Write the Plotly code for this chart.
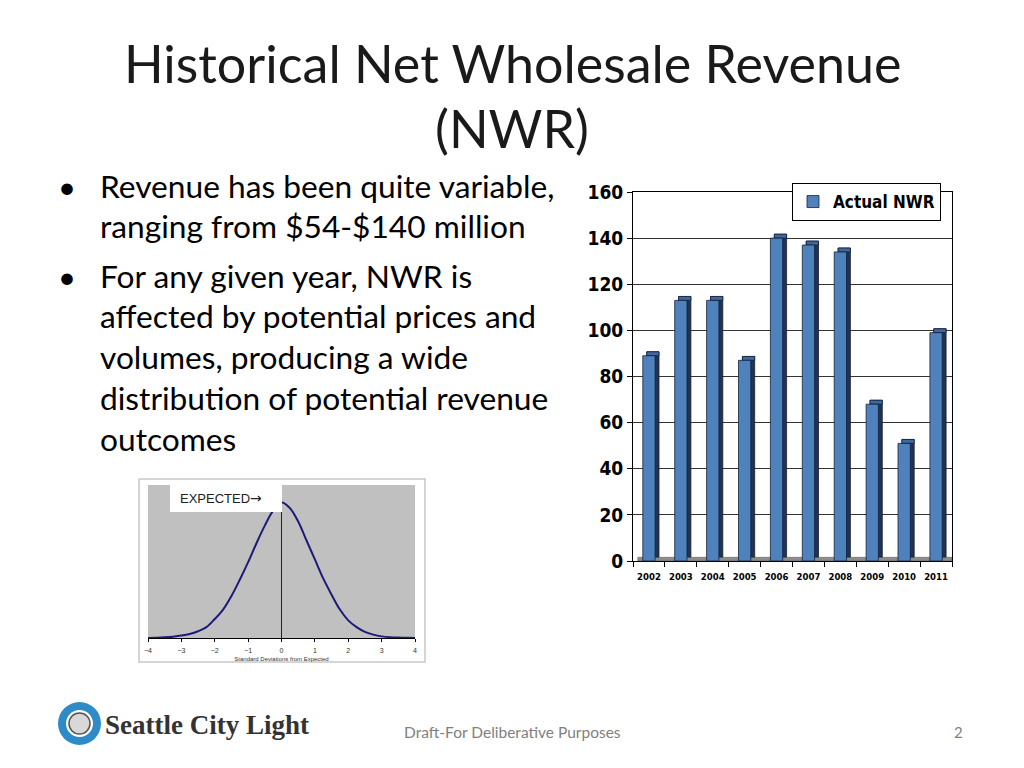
import plotly.graph_objects as go

# ------------------------------------------------------------
# Datos
# ------------------------------------------------------------
YEARS = ["2002", "2003", "2004", "2005", "2006", "2007", "2008", "2009", "2010", "2011"]
NWR = [89, 113, 113, 87, 140, 137, 134, 68, 51, 99]

SD_X = [-4, -3.75, -3.5, -3.25, -3, -2.75, -2.5, -2.25, -2, -1.75, -1.5, -1.25, -1,
        -0.75, -0.5, -0.25, 0, 0.25, 0.5, 0.75, 1, 1.25, 1.5, 1.75, 2, 2.25, 2.5,
        2.75, 3, 3.25, 3.5, 3.75, 4]
SD_Y = [0.0, 0.002, 0.005, 0.01, 0.018, 0.03, 0.05, 0.08, 0.14, 0.21, 0.31, 0.43, 0.56,
        0.7, 0.83, 0.94, 1.0, 0.96, 0.86, 0.72, 0.58, 0.44, 0.32, 0.21, 0.13, 0.08, 0.045,
        0.025, 0.012, 0.006, 0.003, 0.001, 0.0]
SD_TICKS = [-4, -3, -2, -1, 0, 1, 2, 3, 4]

TITLE_LINES = ["Historical Net Wholesale Revenue", "(NWR)"]
BULLETS = [
    ("•", "Revenue has been quite variable,", 186),
    ("", "ranging from $54-$140 million", 226),
    ("•", "For any given year, NWR is", 276),
    ("", "affected by potential prices and", 316),
    ("", "volumes, producing a wide", 357),
    ("", "distribution of potential revenue", 398),
    ("", "outcomes", 439),
]

# ------------------------------------------------------------
# Estilos
# ------------------------------------------------------------
W, H = 1024, 768
COLOR_BAR = "#4f81bd"
COLOR_BAR_TOP = "#3f68a3"
COLOR_BAR_DARK = "#1f3352"
COLOR_CURVE = "#1c1c78"
DEPTH = 1.7          # profundidad 3D en unidades del eje
FONT_SLIDE = "Lato, Carlito, 'Open Sans', sans-serif"
FONT_NARROW = "'DejaVu Sans Condensed', 'Liberation Sans Narrow', Arial, sans-serif"


def px(x):
    return x / W


def py(y):
    return (H - y) / H


fig = go.Figure()

# Cara lateral (oscura)
fig.add_trace(go.Bar(
    x=YEARS, y=NWR, base=DEPTH,
    width=0.385, offset=-0.07,
    marker=dict(color=COLOR_BAR_DARK, line=dict(color="#142238", width=0.8)),
    showlegend=False, hoverinfo="skip",
    xaxis="x", yaxis="y",
))
# Cara superior
fig.add_trace(go.Bar(
    x=YEARS, y=[DEPTH] * len(NWR), base=NWR,
    width=0.385, offset=-0.07,
    marker=dict(color=COLOR_BAR_TOP, line=dict(color="#142238", width=0.8)),
    showlegend=False, hoverinfo="skip",
    xaxis="x", yaxis="y",
))
# Cara frontal
fig.add_trace(go.Bar(
    x=YEARS, y=NWR,
    width=0.385, offset=-0.1925,
    name="Actual NWR",
    marker=dict(color=COLOR_BAR, line=dict(color="#142238", width=0.8)),
    xaxis="x", yaxis="y",
    hovertemplate="%{x}: %{y}<extra></extra>",
))

# Curva normal
fig.add_trace(go.Scatter(
    x=SD_X, y=SD_Y, mode="lines",
    line=dict(color=COLOR_CURVE, width=2, shape="spline"),
    showlegend=False, xaxis="x2", yaxis="y2",
    hoverinfo="skip",
))

shapes = [
    # marco del gráfico pequeño
    dict(type="rect", xref="paper", yref="paper", x0=px(139), x1=px(425), y0=py(662), y1=py(479),
         line=dict(color="#c8c8c8", width=1.5), fillcolor="white", layer="below"),
    # línea vertical en 0
    dict(type="line", xref="x2", yref="y2 domain", x0=0, x1=0, y0=0, y1=1,
         line=dict(color="#222", width=1)),
    # piso gris del gráfico de barras
    dict(type="rect", xref="x domain", yref="y", x0=0.015, x1=1, y0=0, y1=1.6,
         line=dict(color="#555", width=0.5), fillcolor="#8c8c8c", layer="below"),
    # logo
    dict(type="circle", xref="paper", yref="paper", x0=px(58), x1=px(101), y0=py(745), y1=py(702),
         line=dict(width=0), fillcolor="#2e8bc8"),
    dict(type="circle", xref="paper", yref="paper", x0=px(66), x1=px(93), y0=py(737), y1=py(710),
         line=dict(width=0), fillcolor="white"),
    dict(type="circle", xref="paper", yref="paper", x0=px(69), x1=px(90), y0=py(734), y1=py(713),
         line=dict(color="#555", width=1.5), fillcolor="#d8d8d8"),
    # caja "EXPECTED"
    dict(type="rect", xref="paper", yref="paper", x0=px(170), x1=px(282), y0=py(512), y1=py(482),
         line=dict(width=0), fillcolor="white"),
]

annotations = []
for i, t in enumerate(TITLE_LINES):
    annotations.append(dict(
        text=t, x=px(512), y=py(63 + i * 65), xref="paper", yref="paper",
        xanchor="center", yanchor="middle", showarrow=False,
        font=dict(family=FONT_SLIDE, size=52, color="#1a1a1a"),
    ))
for bullet, text, yy in BULLETS:
    if bullet:
        annotations.append(dict(
            text=bullet, x=px(56), y=py(yy), xref="paper", yref="paper",
            xanchor="left", yanchor="middle", showarrow=False,
            font=dict(family=FONT_SLIDE, size=31, color="black"),
        ))
    annotations.append(dict(
        text=text, x=px(98), y=py(yy), xref="paper", yref="paper",
        xanchor="left", yanchor="middle", showarrow=False,
        font=dict(family=FONT_SLIDE, size=31.7, color="black"),
    ))

annotations += [
    dict(text="EXPECTED<span style='font-family:DejaVu Sans;font-size:14px'>\u2192</span>",
         x=px(178), y=py(498), xref="paper", yref="paper",
         xanchor="left", yanchor="middle", showarrow=False,
         font=dict(family="'Liberation Sans', Arial, sans-serif", size=13, color="#222")),
    dict(text="Seattle City Light", x=px(103), y=py(725), xref="paper", yref="paper",
         xanchor="left", yanchor="middle", showarrow=False,
         font=dict(family="'Liberation Serif', serif", size=27, color="#333333", weight="bold")),
    dict(text="Draft-For Deliberative Purposes", x=px(512), y=py(732), xref="paper", yref="paper",
         xanchor="center", yanchor="middle", showarrow=False,
         font=dict(family=FONT_SLIDE, size=15.5, color="#7f7f7f")),
    dict(text="2", x=px(958), y=py(732), xref="paper", yref="paper",
         xanchor="center", yanchor="middle", showarrow=False,
         font=dict(family=FONT_SLIDE, size=15, color="#7f7f7f")),
]

fig.update_layout(
    width=W, height=H,
    margin=dict(l=0, r=0, t=0, b=0, autoexpand=False),
    paper_bgcolor="white",
    plot_bgcolor="white",
    barmode="overlay",
    showlegend=True,
    legend=dict(
        x=px(792), y=py(183), xanchor="left", yanchor="top",
        bgcolor="white", bordercolor="black", borderwidth=1,
        font=dict(family=FONT_NARROW, size=17, color="black", weight="bold"),
        itemwidth=30, tracegroupgap=0,
    ),
    xaxis=dict(
        domain=[px(633), px(952)], anchor="y", automargin=False,
        showline=True, linecolor="black", mirror=True,
        ticks="outside", ticklen=5, tickcolor="black", tickson="boundaries",
        tickangle=0, ticklabelstandoff=7,
        tickfont=dict(family=FONT_NARROW, size=9.5, color="black", weight="bold"),
        showgrid=False,
    ),
    yaxis=dict(
        domain=[py(561), py(192)], anchor="x", automargin=False,
        range=[0, 160], dtick=20,
        showline=True, linecolor="black", mirror=True,
        ticks="outside", ticklen=5, tickcolor="black",
        tickfont=dict(family=FONT_NARROW, size=19, color="black", weight="bold"),
        showgrid=True, gridcolor="#333", gridwidth=1,
        zeroline=False,
    ),
    xaxis2=dict(
        domain=[px(148), px(415)], anchor="y2", automargin=False,
        range=[-4, 4], tickvals=SD_TICKS,
        showline=True, linecolor="black",
        ticks="outside", ticklen=3, tickcolor="black", ticklabelstandoff=3,
        tickfont=dict(family="'Liberation Sans', Arial, sans-serif", size=7, color="#333"),
        title=dict(text="Standard Deviations from Expected", standoff=3,
                   font=dict(family="'Liberation Sans', Arial, sans-serif", size=6, color="#333")),
        showgrid=False, zeroline=False,
    ),
    yaxis2=dict(
        domain=[py(638), py(485)], anchor="x2", automargin=False,
        range=[0, 1.13], showticklabels=False, ticks="",
        showgrid=False, zeroline=False, showline=False,
    ),
    shapes=shapes,
    annotations=annotations,
)

# fondo gris del área del gráfico pequeño
fig.add_shape(type="rect", xref="x2 domain", yref="y2 domain", x0=0, x1=1, y0=0, y1=1,
              line=dict(width=0), fillcolor="#c0c0c0", layer="below")

fig.write_html(
    "out.html",
    config={"displayModeBar": False},
    post_script="document.body.style.margin='0';document.body.style.overflow='hidden';",
)
